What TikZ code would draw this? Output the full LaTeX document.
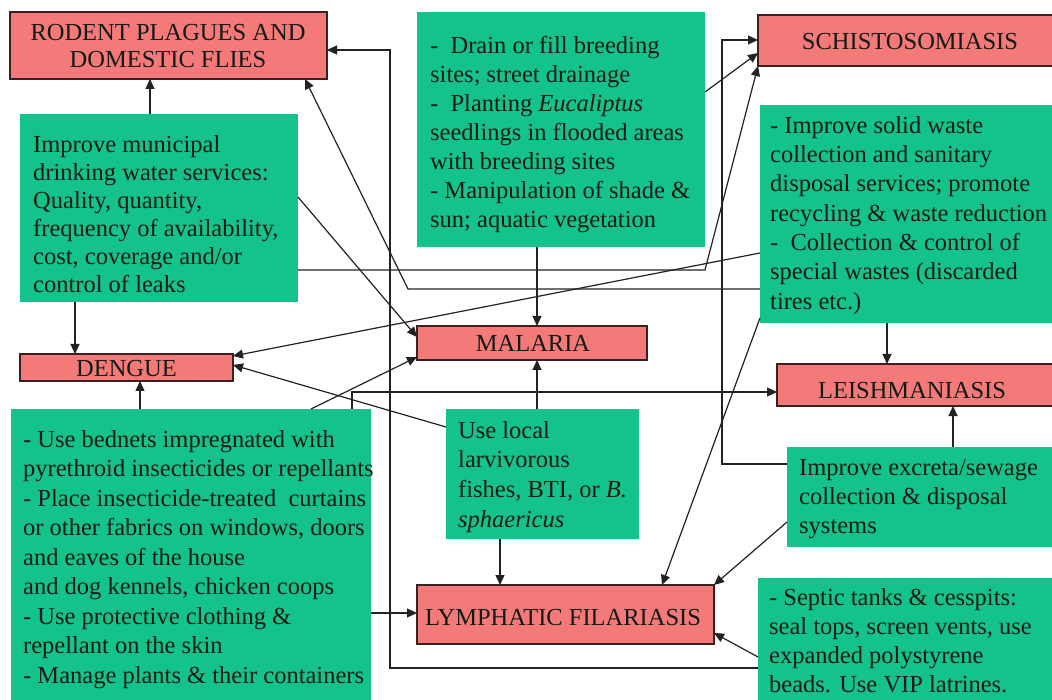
\documentclass[tikz,border=0pt]{standalone}
\usepackage{fontspec}
\setmainfont{Liberation Serif}
\usetikzlibrary{arrows.meta}
\definecolor{boxred}{HTML}{F47A7A}
\definecolor{boxgreen}{HTML}{14C28C}
\definecolor{edgecol}{HTML}{3A2020}
\definecolor{linecol}{HTML}{222222}
\definecolor{textcol}{HTML}{141A14}
\begin{document}
\begin{tikzpicture}[x=1pt,y=-1pt,
  rbox/.style={draw=edgecol, line width=1.3pt, fill=boxred, inner sep=0pt, outer sep=0pt, anchor=north west},
  gbox/.style={fill=boxgreen, inner sep=0pt, outer sep=0pt, anchor=north west},
  title/.style={font=\fontsize{24.5}{27}\selectfont, text=textcol, anchor=base, inner sep=0pt},
  body/.style={align=left, text=textcol, anchor=north west, inner sep=0pt},
  arr/.style={draw=linecol, line width=1.2pt, -{Triangle[length=10pt,width=9pt]}}]
\useasboundingbox (0,0) rectangle (1052,700);
\fill[white] (0,0) rectangle (1052,700);

% boxes
\node[rbox, minimum width=317, minimum height=67] (rodent) at (10,12) {};
\node[gbox, minimum width=278, minimum height=188] (water) at (20,114) {};
\node[gbox, minimum width=288, minimum height=235] (drain) at (417,12) {};
\node[rbox, minimum width=310, minimum height=51] (schisto) at (758,15) {};
\node[gbox, minimum width=300, minimum height=218] (solid) at (760,105) {};
\node[rbox, minimum width=213, minimum height=27] (dengue) at (20,354) {};
\node[rbox, minimum width=230, minimum height=34] (malaria) at (417,326) {};
\node[rbox, minimum width=290, minimum height=42] (leish) at (777,364) {};
\node[gbox, minimum width=360, minimum height=300] (bednets) at (11,409) {};
\node[gbox, minimum width=193, minimum height=130] (larv) at (446,409) {};
\node[gbox, minimum width=280, minimum height=100] (excreta) at (787,447) {};
\node[rbox, minimum width=297, minimum height=59] (lymph) at (417,585) {};
\node[gbox, minimum width=310, minimum height=130] (septic) at (758,578) {};

% connectors
\draw[arr] (water.north -| 150,0) -- (rodent.south -| 150,0);
\draw[arr] (water.south -| 75,0) -- (dengue.north -| 75,0);
\draw[arr] (bednets.north -| 140,0) -- (dengue.south -| 140,0);
\draw[arr] (drain.south -| 537,0) -- (malaria.north -| 537,0);
\draw[arr] (larv.north -| 537,0) -- (malaria.south -| 537,0);
\draw[arr] (larv.south -| 500,0) -- (lymph.north -| 500,0);
\draw[arr] (solid.south -| 887,0) -- (leish.north -| 887,0);
\draw[arr] (excreta.north -| 953,0) -- (leish.south -| 953,0);
\draw[arr] (septic.west |- 0,668) -- (390,668) -- (390,50) -- (rodent.east |- 0,50);
\draw[arr] (solid.west |- 0,289) -- (408,289) -- (rodent.south -| 305,0);
\draw[arr] (water.east |- 0,197) -- (malaria.west |- 0,337);
\draw[arr] (bednets.north -| 311,0) -- (malaria.west |- 0,357);
\draw[arr] (solid.west |- 0,253) -- (dengue.east |- 0,356);
\draw[arr] (larv.west |- 0,427) -- (dengue.east |- 0,365);
\draw[arr] (bednets.north -| 352,0) -- (352,392) -- (leish.west |- 0,392);
\draw[arr] (bednets.east |- 0,613) -- (lymph.west |- 0,613);
\draw[arr] (solid.west |- 0,318) -- (lymph.north -| 662,0);
\draw[arr] (excreta.west |- 0,522) -- (lymph.north east);
\draw[arr] (septic.west |- 0,657) -- (lymph.east |- 0,633);
\draw[arr] (excreta.west |- 0,464) -- (722,464) -- (722,40) -- (schisto.west |- 0,40);
\draw[arr] (drain.east |- 0,92) -- (schisto.west |- 0,53);
\draw[arr] (water.east |- 0,270) -- (705,270) -- (schisto.south west);

% titles
\node[title] (rodentT1) at (168,41) {RODENT PLAGUES AND};
\node[title] (rodentT2) at (168,68) {DOMESTIC FLIES};
\node[title] (schistoT) at (910,50) {SCHISTOSOMIASIS};
\node[title] (dengueT) at (126.5,377) {DENGUE};
\node[title] (malariaT) at (533,352) {MALARIA};
\node[title] (leishT) at (912,399) {LEISHMANIASIS};
\node[title] (lymphT) at (563,625) {LYMPHATIC FILARIASIS};

% body texts (top = first baseline - 0.7 baselineskip)
\node[body, font=\fontsize{24.5}{28}\selectfont] (waterT) at (33,132.4)
  {\strut Improve municipal\\drinking water services:\\Quality, quantity,\\frequency of availability,\\cost, coverage and/or\\control of leaks};
\node[body, font=\fontsize{24.5}{29}\selectfont] (drainT) at (430,32.7)
  {\strut -\ \ Drain or fill breeding\\sites; street drainage\\-\ \ Planting \textit{Eucaliptus}\\seedlings in flooded areas\\with breeding sites\\- Manipulation of shade \&\\sun; aquatic vegetation};
\node[body, font=\fontsize{24.5}{29.3}\selectfont] (solidT) at (770,112.5)
  {\strut - Improve solid waste\\collection and sanitary\\disposal services; promote\\recycling \& waste reduction\\-\ \ Collection \& control of\\special wastes (discarded\\tires etc.)};
\node[body, font=\fontsize{24.5}{29.5}\selectfont] (bednetsT) at (23,426.4)
  {\strut - Use bednets impregnated with\\pyrethroid insecticides or repellants\\- Place insecticide-treated\ \ curtains\\or other fabrics on windows, doors\\and eaves of the house\\and dog kennels, chicken coops\\- Use protective clothing \&\\repellant on the skin\\- Manage plants \& their containers};
\node[body, font=\fontsize{24.5}{29.7}\selectfont] (larvT) at (458,417.2)
  {\strut Use local\\larvivorous\\fishes, BTI, or \textit{B.}\\\textit{sphaericus}};
\node[body, font=\fontsize{24.5}{29}\selectfont] (excretaT) at (799,454.7)
  {\strut Improve excreta/sewage\\collection \& disposal\\systems};
\node[body, font=\fontsize{24.5}{29}\selectfont] (septicT) at (769,584.7)
  {\strut - Septic tanks \& cesspits:\\seal tops, screen vents, use\\expanded polystyrene\\beads. Use VIP latrines.};
\end{tikzpicture}
\end{document}
